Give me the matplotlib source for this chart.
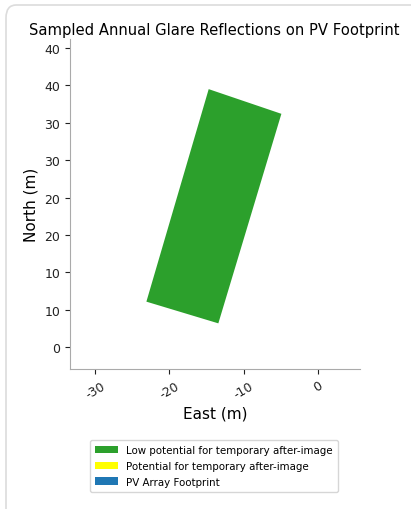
import numpy as np
from matplotlib import pyplot as plt
from matplotlib.patches import Patch, Polygon, FancyBboxPatch

# PV footprint corners (East, North) in metres
east = [-14.7, -4.9, -13.4, -23.1]
north = [34.5, 31.2, 3.2, 6.1]

ytick_vals = [0, 5, 10, 15, 20, 25, 30, 35, 40]
ytick_labels = ["0", "10", "10", "20", "20", "30", "30", "40", "40"]
xtick_vals = [-30, -20, -10, 0]

legend_labels = ["Low potential for temporary after-image",
                 "Potential for temporary after-image",
                 "PV Array Footprint"]
legend_colors = ["#2ca02c", "#ffff00", "#1f77b4"]

fig = plt.figure(figsize=(4.11, 5.10), dpi=100)

# light card border around the figure
card = FancyBboxPatch((6 / 411, -0.05), 1.2, 1.05 - 6 / 510,
                      boxstyle="round,pad=0,rounding_size=0.025",
                      transform=fig.transFigure, facecolor="none",
                      edgecolor="#dcdcdc", linewidth=1.2)
fig.patches.append(card)

ax = fig.add_axes([70 / 411, 1 - 370 / 510, 290 / 411, 330 / 510])
ax.add_patch(Polygon(np.column_stack([east, north]), closed=True,
                     facecolor="#2ca02c", edgecolor="none"))

ax.set_xlim(-33.4, 5.7)
ax.set_ylim(-2.9, 41.2)
ax.set_xticks(xtick_vals)
ax.set_xticklabels([str(v) for v in xtick_vals], rotation=30, fontsize=9)
ax.set_yticks(ytick_vals)
ax.set_yticklabels(ytick_labels, fontsize=9)
ax.spines["top"].set_visible(False)
ax.spines["right"].set_visible(False)
for s in ["left", "bottom"]:
    ax.spines[s].set_color("#aaaaaa")
ax.tick_params(colors="#222222")
ax.set_xlabel("East (m)", fontsize=11)
ax.set_ylabel("North (m)", fontsize=11)
fig.text(214 / 411, 1 - 30 / 510, "Sampled Annual Glare Reflections on PV Footprint",
         fontsize=10.6, ha="center", va="center")

handles = [Patch(facecolor=c, label=l) for c, l in zip(legend_colors, legend_labels)]
fig.legend(handles=handles, loc="center", bbox_to_anchor=(214 / 411, 1 - 467 / 510),
           fontsize=7.4, frameon=True, handlelength=2.2, handleheight=0.7,
           labelspacing=0.55, borderpad=0.5)

plt.savefig("out.png", dpi=100)
